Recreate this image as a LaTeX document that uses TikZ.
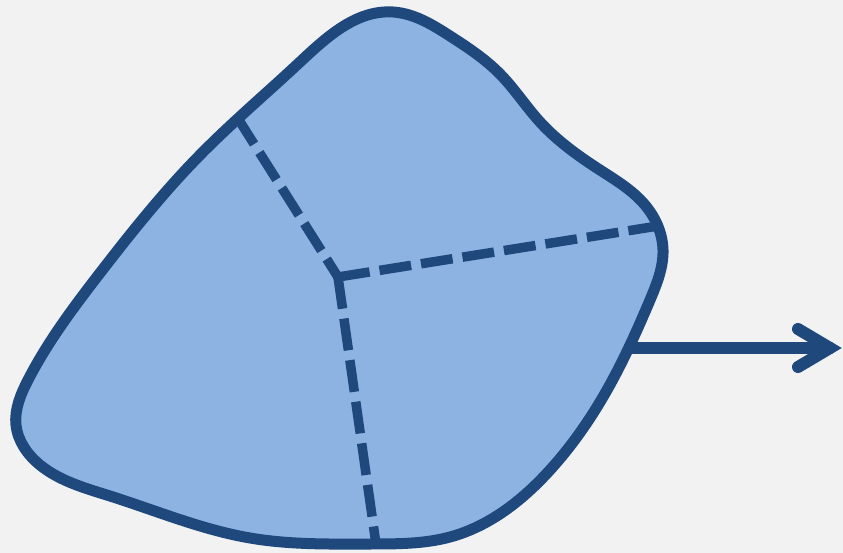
\documentclass[tikz,border=0pt]{standalone}
\usetikzlibrary{hobby}
\definecolor{bg}{HTML}{F2F2F2}
\definecolor{blobfill}{HTML}{8DB3E2}
\definecolor{navy}{HTML}{1F497D}
\begin{document}
\begin{tikzpicture}[x=1pt,y=-1pt,
  outline/.style={draw=navy, line width=11pt, line join=round},
  divider/.style={draw=navy, line width=9.5pt, dash pattern=on 32pt off 10pt},
  arrowline/.style={draw=navy, line width=12pt, line cap=round}]
\fill[bg] (0,0) rectangle (843,553);
\useasboundingbox (0,0) rectangle (843,553);
\coordinate (c) at (338,277);
\coordinate (ptl) at (237,117);
\coordinate (pr) at (658,226);
\coordinate (pb) at (376,544);
\coordinate (astart) at (600,348);
\coordinate (tip) at (830,348);
\coordinate (a1) at (798,329);
\coordinate (a2) at (798,367);
\def\blobpath{[use Hobby shortcut, closed=true]
 (393,12) .. (450,36) .. (500,74) .. (540,122) .. (600,170) .. (645,205)
 .. (663,250) .. (650,300) .. (607,390) .. (550,470)
 .. (450,537) .. (370,544) .. (250,538) .. (110,496) .. (40,465) .. (16,425)
 .. (28,380) .. (100,273) .. (200,155) .. (300,62)}
\draw[arrowline] (astart) -- (tip);
\fill[blobfill] \blobpath;
\draw[divider] (ptl) -- (c);
\draw[divider] (c) -- (pr);
\draw[divider] (c) -- (pb);
\draw[arrowline, line join=miter] (a1) -- (tip) -- (a2);
\draw[outline] \blobpath;
\end{tikzpicture}
\end{document}
